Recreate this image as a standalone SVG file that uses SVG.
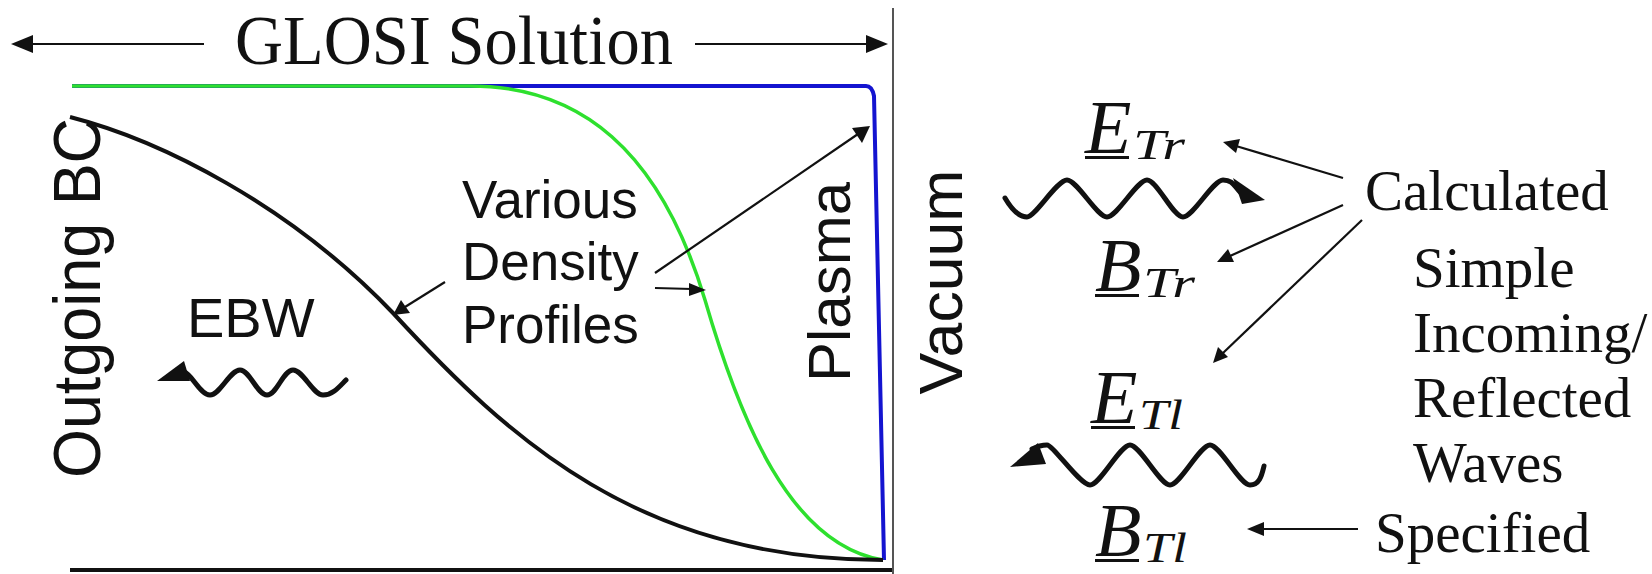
<svg xmlns="http://www.w3.org/2000/svg" width="1652" height="574" viewBox="0 0 1652 574">
<style>
.sans{font-family:"Liberation Sans",Arial,sans-serif;fill:#111}
.serif{font-family:"Liberation Serif","Times New Roman",serif;fill:#111}
.it{font-family:"Liberation Serif","Times New Roman",serif;font-style:italic;fill:#111}
.ln{stroke:#111;stroke-width:2.2;fill:none}
.wave{stroke:#111;stroke-width:5;fill:none;stroke-linecap:round;stroke-linejoin:round}
.head{fill:#111}
</style>
<rect width="1652" height="574" fill="#fff"/>
<g id="plot">
  <line x1="70" y1="570" x2="893" y2="570" stroke="#111" stroke-width="4"/>
  <line x1="893" y1="8" x2="893" y2="574" stroke="#555" stroke-width="2"/>
  <path d="M72,86 H866 Q872,86 874,96 L884,560" stroke="#1414d0" stroke-width="4" fill="none"/>
  <path d="M72,86 H470 C580,86 660,150 705,300 C740,420 790,545 883,560" stroke="#2ee02e" stroke-width="3.5" fill="none"/>
  <path d="M70,117 C160,140 290,205 393,313 C510,440 640,560 883,560" stroke="#111" stroke-width="4" fill="none"/>
</g>
<g id="title">
  <text class="serif" x="235" y="64" font-size="70" textLength="438" lengthAdjust="spacingAndGlyphs">GLOSI Solution</text>
</g>
<g id="labels-left">
  <text class="sans" font-size="66" text-anchor="middle" textLength="360" lengthAdjust="spacingAndGlyphs" transform="translate(100,298) rotate(-90)">Outgoing BC</text>
  <text class="sans" x="187" y="337" font-size="56">EBW</text>
  <text class="sans" x="462" y="218" font-size="53">Various</text>
  <text class="sans" x="462" y="280" font-size="53">Density</text>
  <text class="sans" x="462" y="343" font-size="53">Profiles</text>
  <text class="sans" font-size="60" text-anchor="middle" textLength="200" lengthAdjust="spacingAndGlyphs" transform="translate(850,282) rotate(-90)">Plasma</text>
  <text class="sans" font-size="62" text-anchor="middle" textLength="225" lengthAdjust="spacingAndGlyphs" transform="translate(962,282) rotate(-90)">Vacuum</text>
</g>
<g id="fields">
  <g id="E_Tr">
    <text class="it" x="1085" y="153" font-size="76">E</text>
    <text class="it" x="1133" y="159" font-size="42" textLength="52" lengthAdjust="spacingAndGlyphs">Tr</text>
    <rect x="1085" y="156" width="44" height="3" fill="#111"/>
  </g>
  <g id="B_Tr">
    <text class="it" x="1095" y="291" font-size="76">B</text>
    <text class="it" x="1143" y="297" font-size="42" textLength="52" lengthAdjust="spacingAndGlyphs">Tr</text>
    <rect x="1095" y="294" width="44" height="3" fill="#111"/>
  </g>
  <g id="E_Tl">
    <text class="it" x="1091" y="423" font-size="76">E</text>
    <text class="it" x="1139" y="429" font-size="42" textLength="44" lengthAdjust="spacingAndGlyphs">Tl</text>
    <rect x="1091" y="426" width="44" height="3" fill="#111"/>
  </g>
  <g id="B_Tl">
    <text class="it" x="1095" y="556" font-size="76">B</text>
    <text class="it" x="1143" y="562" font-size="42" textLength="44" lengthAdjust="spacingAndGlyphs">Tl</text>
    <rect x="1095" y="559" width="44" height="3" fill="#111"/>
  </g>
</g>
<g id="labels-right">
  <text class="serif" x="1365" y="210" font-size="57">Calculated</text>
  <text class="serif" x="1413" y="287" font-size="57">Simple</text>
  <text class="serif" x="1413" y="352" font-size="57">Incoming/</text>
  <text class="serif" x="1413" y="417" font-size="57">Reflected</text>
  <text class="serif" x="1413" y="482" font-size="57">Waves</text>
  <text class="serif" x="1375" y="552" font-size="57">Specified</text>
</g>
<g id="connectors">
  <line class="ln" x1="204" y1="44" x2="30" y2="44" stroke-width="3"/>
  <polygon class="head" points="11,44 33,35 33,53"/>
  <line class="ln" x1="695" y1="44" x2="868" y2="44" stroke-width="3"/>
  <polygon class="head" points="888,44 866,35 866,53"/>
  <line class="ln" x1="445" y1="282" x2="405" y2="307"/>
  <polygon class="head" points="393,315 401,300 410,313"/>
  <line class="ln" x1="655" y1="273" x2="858" y2="134"/>
  <polygon class="head" points="870,126 852,128 862,143"/>
  <line class="ln" x1="655" y1="288" x2="692" y2="289"/>
  <polygon class="head" points="706,290 689,283 689,296"/>
  <line class="ln" x1="1343" y1="178" x2="1236" y2="146"/>
  <polygon class="head" points="1223,142 1240,139 1236,153"/>
  <line class="ln" x1="1343" y1="205" x2="1230" y2="256"/>
  <polygon class="head" points="1217,262 1228,249 1234,262"/>
  <line class="ln" x1="1362" y1="220" x2="1223" y2="353"/>
  <polygon class="head" points="1213,363 1218,347 1228,357"/>
  <line class="ln" x1="1358" y1="529" x2="1262" y2="529"/>
  <polygon class="head" points="1247,529 1264,522 1264,536"/>
</g>
<g id="waves">
  <path class="wave" d="M184,372 C192,374 200,395 210,395 S230,370 240,370 S257,395 267,395 S283,370 293,370 S313,395 323,395 S340,386 346,380"/>
  <polygon class="head" points="157,381 184,361 190,381"/>
  <path class="wave" d="M1005,198 C1012,210 1019,217 1027,217 S1057,180 1067,180 S1097,217 1107,217 S1137,180 1147,180 S1173,217 1183,217 S1213,180 1223,180 S1234,186 1240,192"/>
  <polygon class="head" points="1265,200 1233,178 1242,204"/>
  <path class="wave" d="M1032,449 C1038,446 1041,445 1047,445 S1080,485 1090,485 S1120,445 1130,445 S1160,485 1170,485 S1200,445 1210,445 S1240,485 1250,485 S1262,474 1264,466"/>
  <polygon class="head" points="1010,467 1038,443 1046,464"/>
</g>
</svg>
